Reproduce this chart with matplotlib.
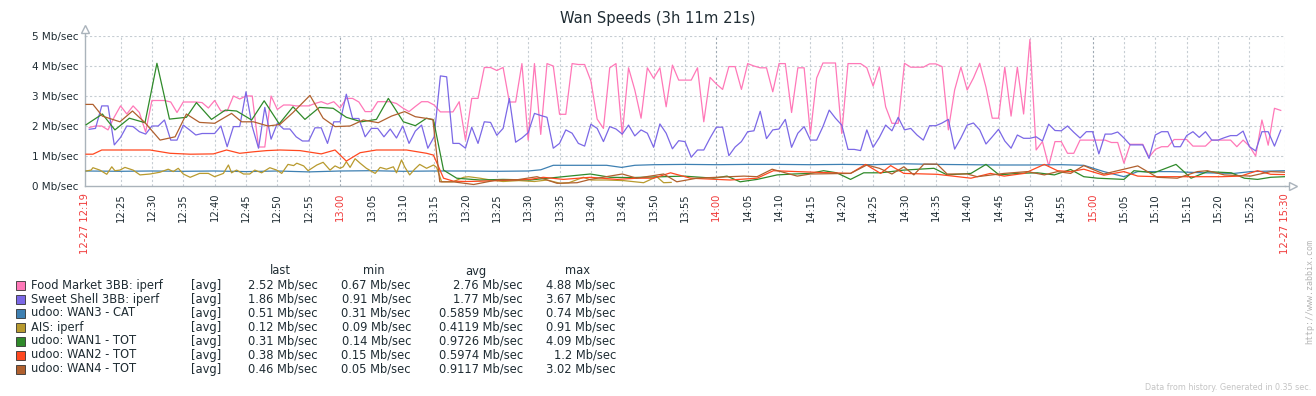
import matplotlib
matplotlib.use('Agg')
import matplotlib.pyplot as plt
from matplotlib.patches import Rectangle
import numpy as np

plt.rcParams['font.family'] = 'DejaVu Sans'

W, H = 1316, 396

# time axis in minutes after 12:00 (12:19:20 .. 15:30:41)
t_start, t_end = 19.33, 210.68

# iperf results, one sample a minute from 12:20 to 15:30
t_iperf = np.arange(20, 211)
food_market = [
    1.95, 2.0, 2.0, 1.87, 2.3, 2.67, 2.4, 2.67, 2.45, 1.8,
    2.85, 2.85, 2.85, 2.8, 2.45, 2.8, 2.8, 2.8, 2.78, 2.6,
    2.85, 2.5, 2.5, 3.0, 2.9, 3.0, 3.0, 1.3, 1.3, 3.0,
    2.55, 2.7, 2.7, 2.67, 2.67, 2.67, 2.75, 2.81, 2.73, 2.81,
    2.6, 2.92, 2.92, 2.8, 2.48, 2.48, 2.81, 2.81, 2.81, 2.75,
    2.6, 2.48, 2.65, 2.81, 2.81, 2.7, 2.47, 2.47, 2.47, 2.81,
    1.53, 2.92, 2.92, 3.95, 3.95, 3.85, 3.95, 2.8, 2.8, 4.08,
    1.53, 4.08, 1.72, 4.08, 4.0, 2.39, 2.39, 4.08, 4.05, 4.05,
    3.5, 2.23, 1.92, 3.94, 4.08, 1.7, 3.94, 3.2, 2.26, 3.94,
    3.59, 3.94, 2.64, 4.03, 3.53, 3.53, 3.53, 3.94, 2.14, 3.62,
    3.4, 3.22, 3.98, 3.98, 3.22, 4.08, 4.0, 3.94, 3.94, 3.14,
    4.08, 4.08, 2.45, 3.94, 3.94, 1.73, 3.6, 4.1, 4.1, 4.1,
    1.75, 4.08, 4.08, 4.08, 3.94, 3.33, 3.97, 2.64, 2.09, 2.09,
    4.09, 3.96, 3.96, 3.96, 4.07, 4.07, 3.98, 1.87, 3.2, 3.96,
    3.2, 3.6, 4.09, 3.29, 2.26, 2.26, 3.96, 2.33, 3.96, 2.4,
    4.88, 1.2, 1.48, 0.67, 1.48, 1.48, 1.09, 1.09, 1.53, 1.53,
    1.53, 1.53, 1.53, 1.45, 1.45, 0.76, 1.39, 1.39, 1.39, 0.96,
    1.22, 1.31, 1.31, 1.55, 1.55, 1.55, 1.33, 1.33, 1.33, 1.53,
    1.53, 1.53, 1.53, 1.31, 1.53, 1.33, 1.0, 2.2, 1.36, 2.59, 2.52]
sweet_shell = [
    1.89, 1.92, 2.67, 2.67, 1.37, 1.62, 2.0, 1.98, 1.81, 1.73,
    2.0, 2.0, 2.2, 1.53, 1.53, 2.03, 1.87, 1.7, 1.75, 1.75,
    1.75, 2.0, 1.31, 1.98, 1.98, 3.14, 1.98, 1.26, 2.62, 1.56,
    2.09, 1.9, 1.9, 1.64, 1.5, 1.5, 1.94, 1.94, 1.42, 2.14,
    2.14, 3.06, 2.25, 2.25, 1.64, 1.92, 1.92, 1.64, 1.9, 1.6,
    2.0, 1.42, 1.83, 2.03, 1.26, 1.64, 3.67, 3.64, 1.42, 1.42,
    1.26, 1.96, 1.42, 2.14, 2.12, 1.69, 1.92, 2.92, 1.46, 1.6,
    1.78, 2.42, 2.35, 2.29, 1.26, 1.42, 1.87, 1.76, 1.42, 1.33,
    2.06, 1.92, 1.48, 1.98, 1.9, 1.73, 2.03, 1.67, 1.87, 1.76,
    1.29, 2.07, 1.76, 1.24, 1.51, 1.48, 0.96, 1.2, 1.2, 1.6,
    1.96, 1.96, 1.01, 1.3, 1.48, 1.81, 1.84, 2.49, 1.58, 1.87,
    1.9, 2.22, 1.29, 1.76, 1.98, 1.53, 1.53, 1.98, 2.53, 2.26,
    2.03, 1.22, 1.22, 1.18, 1.87, 1.29, 1.62, 2.03, 1.84, 2.29,
    1.87, 1.92, 1.7, 1.53, 2.01, 2.01, 2.1, 2.22, 1.23, 1.6,
    2.03, 2.1, 1.87, 1.4, 1.64, 1.89, 1.5, 1.26, 1.7, 1.59,
    1.59, 1.64, 1.5, 2.06, 1.85, 1.84, 2.0, 1.79, 1.6, 1.81,
    1.81, 1.07, 1.73, 1.73, 1.8, 1.6, 1.37, 1.37, 1.37, 0.92,
    1.7, 1.81, 1.81, 1.31, 1.31, 1.68, 1.81, 1.62, 1.81, 1.53,
    1.53, 1.61, 1.68, 1.68, 1.83, 1.31, 1.17, 1.81, 1.81, 1.33, 1.86]

# (minute, Mb/sec) pairs for the link counters
wan3 = [(19.5, 0.5), (25, 0.49), (30, 0.5), (35, 0.49), (40, 0.5), (45, 0.48),
        (50, 0.5), (55, 0.47), (60, 0.5), (65, 0.51), (70, 0.49), (75, 0.5),
        (80, 0.5), (85, 0.49), (90, 0.5), (92, 0.54), (94, 0.69), (102.5, 0.69),
        (104.9, 0.62), (107, 0.69), (110, 0.71), (115, 0.72), (120, 0.71),
        (125, 0.72), (130, 0.72), (135, 0.71), (140, 0.72), (145, 0.71),
        (150, 0.74), (155, 0.72), (160, 0.71), (165, 0.7), (170, 0.7),
        (175, 0.71), (178.6, 0.69), (181.8, 0.48), (185, 0.31), (187.2, 0.48),
        (192.5, 0.48), (197.8, 0.44), (202.6, 0.42), (205.2, 0.48), (210.6, 0.51)]
ais = [(19.5, 0.5), (20.3, 0.53), (20.6, 0.61), (21.7, 0.53), (22.8, 0.39),
       (23.6, 0.64), (24.1, 0.51), (24.9, 0.53), (25.7, 0.62), (27, 0.53),
       (28.1, 0.37), (29.7, 0.4), (31.3, 0.46), (32.6, 0.56), (33.4, 0.48),
       (34.2, 0.59), (35, 0.4), (36.1, 0.29), (37.6, 0.42), (39, 0.42),
       (40, 0.31), (41.4, 0.42), (42.2, 0.7), (42.7, 0.44), (43.5, 0.53),
       (44.6, 0.4), (45.6, 0.4), (46.4, 0.53), (47.5, 0.44), (48.8, 0.61),
       (49.9, 0.53), (50.7, 0.42), (51.7, 0.72), (52.6, 0.68), (53.1, 0.76),
       (54.2, 0.67), (54.9, 0.51), (56.3, 0.7), (57.3, 0.79), (58.4, 0.53),
       (59.2, 0.67), (60, 0.59), (60.5, 0.64), (61, 0.81), (61.6, 0.62),
       (62.4, 0.91), (63.2, 0.76), (64.2, 0.59), (65.6, 0.42), (66.4, 0.62),
       (67.4, 0.56), (68.5, 0.64), (69, 0.44), (69.8, 0.87), (70.3, 0.64),
       (71.1, 0.37), (71.9, 0.56), (72.7, 0.72), (73.8, 0.59), (74.9, 0.7),
       (75.4, 0.62), (76.2, 0.14), (78, 0.14), (79.7, 0.29), (80.5, 0.31),
       (82.3, 0.26), (84, 0.2), (86, 0.15), (88.5, 0.18), (91, 0.15),
       (93, 0.2), (95.1, 0.09), (96.5, 0.11), (98.8, 0.29), (100, 0.2),
       (102.5, 0.2), (105.2, 0.18), (108.4, 0.11), (110.5, 0.31), (111.6, 0.11),
       (112.8, 0.12)]
wan1 = [(19.5, 2.04), (22.1, 2.4), (24.1, 1.87), (26.4, 2.26), (28.9, 2.11),
        (30.8, 4.09), (32.8, 2.23), (35.5, 2.29), (37.1, 2.78), (39.5, 2.22),
        (41.7, 2.53), (43.5, 2.5), (45.9, 2.2), (47.9, 2.84), (50.3, 2.07),
        (52.5, 2.64), (54.4, 2.22), (56.7, 2.62), (58.9, 2.59), (61, 2.29),
        (63.4, 2.14), (65.8, 2.22), (67.7, 2.92), (70.1, 2.14), (72, 2.01),
        (73.8, 2.26), (74.9, 2.2), (76.5, 0.53), (78.6, 0.26), (82.3, 0.2),
        (86, 0.22), (90.3, 0.2), (94.6, 0.29), (99.9, 0.4), (103.1, 0.29),
        (106.3, 0.28), (111.6, 0.31), (114.8, 0.33), (119.6, 0.26), (121.7, 0.33),
        (123.8, 0.14), (126.5, 0.22), (129.7, 0.37), (132.3, 0.4), (135, 0.42),
        (137.1, 0.51), (139.2, 0.44), (141.4, 0.22), (143.5, 0.44), (146.2, 0.44),
        (149.9, 0.53), (154.7, 0.59), (156.8, 0.37), (160.6, 0.42), (163, 0.72),
        (165.1, 0.37), (168, 0.42), (171.2, 0.44), (173.9, 0.37), (176.5, 0.55),
        (178.6, 0.31), (180.8, 0.26), (185, 0.22), (186.6, 0.51), (189.8, 0.44),
        (193.3, 0.72), (195.7, 0.26), (198.3, 0.48), (202.1, 0.44), (204.2, 0.26),
        (206.3, 0.22), (208.4, 0.29), (210.6, 0.31)]
wan2 = [(19.5, 1.06), (20.6, 1.06), (22, 1.2), (29.7, 1.2), (32.9, 1.09),
        (36.1, 1.06), (39.8, 1.07), (41.9, 1.2), (44, 1.09), (46.2, 1.14),
        (48.3, 1.18), (50.4, 1.2), (53.6, 1.18), (57, 1.07), (59.2, 1.2),
        (61, 0.83), (63.2, 1.11), (65.8, 1.2), (70.6, 1.2), (73.8, 1.09),
        (74.9, 1.03), (76.5, 0.26), (78.1, 0.16), (80.2, 0.15), (82.3, 0.16),
        (85, 0.18), (90.3, 0.22), (92.4, 0.29), (95.6, 0.22), (99.9, 0.29),
        (104.2, 0.22), (107.3, 0.26), (110, 0.26), (112.7, 0.44), (115.9, 0.26),
        (120.1, 0.22), (122.2, 0.2), (126.5, 0.26), (129.1, 0.51), (132.9, 0.48),
        (138.2, 0.44), (141.4, 0.42), (143.8, 0.72), (146.2, 0.42), (147.8, 0.68),
        (149.9, 0.42), (155.2, 0.39), (160.6, 0.26), (163.7, 0.42), (165.9, 0.33),
        (169.1, 0.42), (172.3, 0.72), (174.4, 0.51), (176.5, 0.48), (178.6, 0.56),
        (181.8, 0.36), (185, 0.48), (187.2, 0.33), (190.3, 0.31), (196.7, 0.31),
        (200.5, 0.31), (203.6, 0.33), (206.3, 0.51), (208.4, 0.39), (210.6, 0.38)]
wan4 = [(19.5, 2.72), (20.6, 2.72), (22.1, 2.33), (24.9, 2.14), (26.9, 2.5),
        (28.9, 2.11), (31.3, 1.53), (33.7, 1.64), (35.5, 2.4), (37.6, 2.12),
        (40, 2.09), (42.7, 2.42), (44.3, 2.14), (46.2, 2.14), (48.5, 2.0),
        (50.4, 2.05), (52.5, 2.45), (55.2, 3.02), (57.3, 2.26), (59.2, 1.98),
        (61.6, 2.0), (63.7, 2.2), (66.1, 2.11), (68.2, 2.33), (70.3, 2.48),
        (72, 2.31), (74.8, 2.22), (75.9, 0.14), (78, 0.14), (81.3, 0.05),
        (85, 0.2), (88, 0.2), (91.4, 0.31), (94.6, 0.09), (97.8, 0.11),
        (99.9, 0.22), (105, 0.4), (107.3, 0.26), (111.6, 0.4), (113.7, 0.14),
        (116.9, 0.26), (122.2, 0.31), (124.4, 0.33), (126.5, 0.31), (128.9, 0.56),
        (132.9, 0.33), (135, 0.4), (141.4, 0.42), (144, 0.7), (146, 0.59),
        (148, 0.4), (149.9, 0.64), (151.5, 0.37), (153.1, 0.73), (155.2, 0.73),
        (156.8, 0.4), (160, 0.4), (161.6, 0.31), (165.9, 0.42), (169.6, 0.48),
        (172.3, 0.37), (174.4, 0.48), (176.5, 0.42), (178.6, 0.68), (181.8, 0.4),
        (187.2, 0.67), (190.3, 0.29), (193.5, 0.26), (196.7, 0.48), (198.3, 0.51),
        (201, 0.37), (205.2, 0.33), (208.4, 0.48), (210.6, 0.46)]

names = ['Food Market 3BB: iperf', 'Sweet Shell 3BB: iperf', 'udoo: WAN3 - CAT',
         'AIS: iperf', 'udoo: WAN1 - TOT', 'udoo: WAN2 - TOT', 'udoo: WAN4 - TOT']
colors = ['#ff78b8', '#7b68e6', '#3e80b2', '#b89a2e', '#2f8a2a', '#ff4820', '#b0602e']
last_v = ['2.52 Mb/sec', '1.86 Mb/sec', '0.51 Mb/sec', '0.12 Mb/sec', '0.31 Mb/sec', '0.38 Mb/sec', '0.46 Mb/sec']
min_v = ['0.67 Mb/sec', '0.91 Mb/sec', '0.31 Mb/sec', '0.09 Mb/sec', '0.14 Mb/sec', '0.15 Mb/sec', '0.05 Mb/sec']
avg_v = ['2.76 Mb/sec', '1.77 Mb/sec', '0.5859 Mb/sec', '0.4119 Mb/sec', '0.9726 Mb/sec', '0.5974 Mb/sec', '0.9117 Mb/sec']
max_v = ['4.88 Mb/sec', '3.67 Mb/sec', '0.74 Mb/sec', '0.91 Mb/sec', '4.09 Mb/sec', '1.2 Mb/sec', '3.02 Mb/sec']

series = [(t_iperf, food_market), (t_iperf, sweet_shell)]
for pairs in [wan3, ais, wan1, wan2, wan4]:
    tt, vv = zip(*pairs)
    series.append((tt, vv))

txt = '#1f2c33'
axc = '#aab3bb'
fig = plt.figure(figsize=(W / 100, H / 100), dpi=100)
ax = fig.add_axes([85 / W, (H - 186) / H, 1200 / W, 150 / H])

for i, (tt, vv) in enumerate(series):
    ax.plot(tt, vv, color=colors[i], lw=0.9, zorder=3 + i)

ax.set_xlim(t_start, t_end)
ax.set_ylim(0, 5)

# grid, one line every 5 minutes, hour lines darker
minutes = list(range(25, 210, 5))
for m in minutes + [t_end]:
    hour = (m % 60 == 0)
    ax.axvline(m, color='#9ea9b3' if hour else '#c6cdd3', lw=0.8,
               ls=(0, (2, 2)), zorder=1)
for y in range(1, 6):
    ax.axhline(y, color='#c6cdd3', lw=0.8, ls=(0, (2, 2)), zorder=1)

for s in ['top', 'right']:
    ax.spines[s].set_visible(False)
for s in ['left', 'bottom']:
    ax.spines[s].set_color(axc)
    ax.spines[s].set_linewidth(1.0)

ax.plot([t_start, t_start], [5, 5.15], color=axc, lw=1.0, clip_on=False)
ax.plot(t_start, 5.22, marker='^', ms=6, mfc='white', mec=axc, mew=1.0, clip_on=False)
ax.plot([t_end, 211.6], [0, 0], color=axc, lw=1.0, clip_on=False)
ax.plot(212.0, 0, marker='>', ms=6, mfc='white', mec=axc, mew=1.0, clip_on=False)

ax.set_yticks(range(6))
ax.set_yticklabels([f'{i} Mb/sec' for i in range(6)], fontsize=7.5, color=txt)

xt = [t_start] + minutes + [t_end]
xl = ['12-27 12:19'] + [f'{m // 60 + 12}:{m % 60:02d}' for m in minutes] + ['12-27 15:30']
ax.set_xticks(xt)
ax.set_xticklabels(xl, rotation=90, fontsize=7.2, color=txt)
for lab, m in zip(ax.get_xticklabels(), xt):
    if m in (t_start, t_end) or (isinstance(m, int) and m % 60 == 0):
        lab.set_color('#f03a3a')
ax.tick_params(axis='both', length=0, pad=5)

fig.text(0.5, 1 - 19 / H, 'Wan Speeds (3h 11m 21s)', ha='center', va='center',
         fontsize=10.6, color=txt)

# legend table
fs = 8.3
yh = 271
for lbl, xc in [('last', 280), ('min', 374), ('avg', 476), ('max', 577)]:
    fig.text(xc / W, 1 - yh / H, lbl, ha='center', va='center', fontsize=fs, color=txt)
for i in range(len(names)):
    y = 285 + 14 * i
    fig.add_artist(Rectangle((16 / W, 1 - (y + 4.5) / H), 9 / W, 9 / H,
                             facecolor=colors[i], edgecolor='#333333', lw=0.6,
                             transform=fig.transFigure))
    fig.text(31 / W, 1 - y / H, names[i], ha='left', va='center', fontsize=fs, color=txt)
    fig.text(191 / W, 1 - y / H, '[avg]', ha='left', va='center', fontsize=fs, color=txt)
    fig.text(318 / W, 1 - y / H, last_v[i], ha='right', va='center', fontsize=fs, color=txt)
    fig.text(411 / W, 1 - y / H, min_v[i], ha='right', va='center', fontsize=fs, color=txt)
    fig.text(523 / W, 1 - y / H, avg_v[i], ha='right', va='center', fontsize=fs, color=txt)
    fig.text(616 / W, 1 - y / H, max_v[i], ha='right', va='center', fontsize=fs, color=txt)

fig.text(1311 / W, 1 - 387 / H, 'Data from history. Generated in 0.35 sec.',
         ha='right', va='center', fontsize=5.8, color='#c4c4c4')
fig.text(1310 / W, 1 - 292 / H, 'http://www.zabbix.com', rotation=90,
         ha='center', va='center', fontsize=6, color='#b4b4b4',
         family='DejaVu Sans Mono')

fig.savefig('out.png', dpi=100)
